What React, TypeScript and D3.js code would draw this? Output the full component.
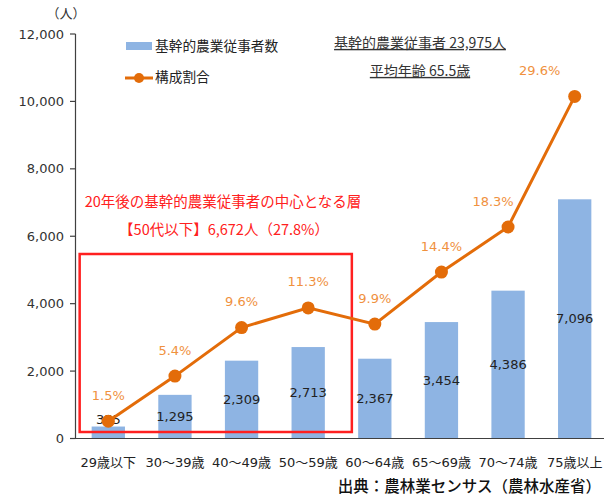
import React from "react";
import * as d3 from "d3";

const categories = ["29歳以下", "30～39歳", "40～49歳", "50～59歳", "60～64歳", "65～69歳", "70～74歳", "75歳以上"];
const workers = [355, 1295, 2309, 2713, 2367, 3454, 4386, 7096];
const shares = [1.5, 5.4, 9.6, 11.3, 9.9, 14.4, 18.3, 29.6];
const yTicks = [0, 2000, 4000, 6000, 8000, 10000, 12000];
const highlightCount = 4;

const W = 604, H = 498;
const FONT = "'DejaVu Sans', 'Noto Sans CJK JP', sans-serif";
const JP = "'Noto Sans CJK JP', sans-serif";
const BLUE = "#8EB4E3";
const ORANGE = "#E36C09";
const ORANGE_TXT = "#F0913E";
const RED = "#FF2020";

export default function App() {
  const x = d3.scaleBand<string>().domain(categories).range([75, 608]).paddingInner(0.5).paddingOuter(0.25);
  const y = d3.scaleLinear().domain([0, 12000]).range([438.5, 34]);
  const y2 = d3.scaleLinear().domain([0, 35]).range([438.5, 34]);
  const cx = (c: string) => (x(c) as number) + x.bandwidth() / 2;
  const line = d3.line<number>().x((_, i) => cx(categories[i])).y((d) => y2(d));

  const rectX0 = (x(categories[0]) as number) - 12;
  const rectX1 = (x(categories[highlightCount - 1]) as number) + x.bandwidth() + 27;

  return (
    <svg width={W} height={H} style={{ position: "absolute", left: 0, top: 0, background: "#fff" }}>
      {/* y axis */}
      <line x1={75.5} x2={75.5} y1={y(12000)} y2={y(0)} stroke="#404040" strokeWidth={1.2} />
      {yTicks.map((t) => (
        <g key={t}>
          <line x1={70} x2={75.5} y1={y(t)} y2={y(t)} stroke="#404040" strokeWidth={1.2} />
          <text x={64} y={y(t)} dy="0.35em" textAnchor="end" fontFamily={FONT} fontSize={13} fill="#333">
            {d3.format(",")(t)}
          </text>
        </g>
      ))}
      <text x={66} y={18} textAnchor="middle" fontFamily={JP} fontSize={13} fill="#333">（人）</text>

      {/* bars */}
      {workers.map((v, i) => (
        <rect key={i} x={x(categories[i])} y={y(v)} width={x.bandwidth()} height={y(0) - y(v)} fill={BLUE} />
      ))}
      {/* x axis */}
      <line x1={75} x2={W} y1={y(0)} y2={y(0)} stroke="#404040" strokeWidth={1.2} />
      {categories.map((c) => (
        <text key={c} x={cx(c)} y={467} textAnchor="middle" fontFamily={FONT} fontSize={13} fill="#222">
          {c}
        </text>
      ))}

      {/* red highlight box */}
      <rect x={rectX0} y={254} width={rectX1 - rectX0} height={432 - 254} fill="none" stroke={RED} strokeWidth={2.5} />

      {/* bar value labels */}
      {workers.map((v, i) => {
        const yy = Math.min((y(v) + y(0)) / 2, y(0) - 19);
        return (
          <text key={i} x={cx(categories[i])} y={yy} dy="0.35em" textAnchor="middle" fontFamily={FONT} fontSize={13} fill="#222">
            {d3.format(",")(v)}
          </text>
        );
      })}

      {/* line */}
      <path d={line(shares) || ""} fill="none" stroke={ORANGE} strokeWidth={3} />
      {shares.map((s, i) => (
        <circle key={i} cx={cx(categories[i])} cy={y2(s)} r={6.5} fill={ORANGE} />
      ))}
      {shares.map((s, i) => {
        const dx = i === 7 ? -35 : i === 6 ? -15 : 0;
        return (
          <text key={i} x={cx(categories[i]) + dx} y={y2(s) - 26} dy="0.35em" textAnchor="middle" fontFamily={FONT} fontSize={13} fill={ORANGE_TXT}>
            {s.toFixed(1)}%
          </text>
        );
      })}

      {/* legend */}
      <rect x={126} y={42} width={26} height={8} fill={BLUE} />
      <text x={155} y={46} dy="0.35em" fontFamily={JP} fontSize={13.7} fill="#222">基幹的農業従事者数</text>
      <line x1={125} x2={153} y1={78} y2={78} stroke={ORANGE} strokeWidth={3} />
      <circle cx={139} cy={78} r={5} fill={ORANGE} />
      <text x={155} y={77} dy="0.35em" fontFamily={JP} fontSize={13.7} fill="#222">構成割合</text>

      {/* summary */}
      <text x={420} y={43} dy="0.35em" textAnchor="middle" fontFamily={JP} fontSize={14} fill="#333" textDecoration="underline">
        基幹的農業従事者 23,975人
      </text>
      <text x={420} y={71} dy="0.35em" textAnchor="middle" fontFamily={JP} fontSize={14} fill="#333" textDecoration="underline">
        平均年齢 65.5歳
      </text>

      {/* red annotation */}
      <text x={223} y={202} dy="0.35em" textAnchor="middle" fontFamily={JP} fontSize={14.5} fill={RED}>
        20年後の基幹的農業従事者の中心となる層
      </text>
      <text x={224} y={230} dy="0.35em" textAnchor="middle" fontFamily={JP} fontSize={14.5} fill={RED}>
        【50代以下】6,672人（27.8%）
      </text>

      {/* source */}
      <text x={601} y={487} dy="0.35em" textAnchor="end" fontFamily={JP} fontSize={15.5} fontWeight={500} fill="#111">
        出典：農林業センサス（農林水産省）
      </text>
    </svg>
  );
}
